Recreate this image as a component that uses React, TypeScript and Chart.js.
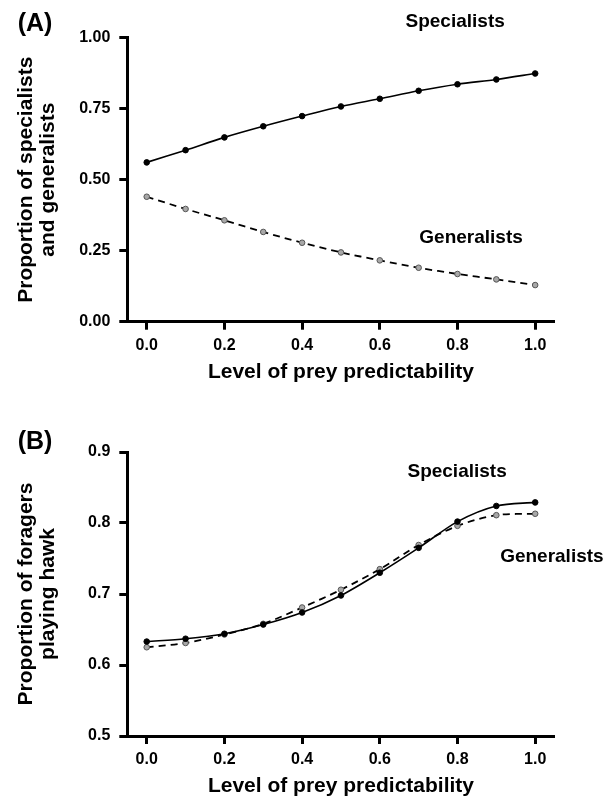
import React, { useEffect, useRef } from "react";
import { Chart, registerables } from "chart.js";

Chart.register(...registerables);

const xValues = [0, 0.1, 0.2, 0.3, 0.4, 0.5, 0.6, 0.7, 0.8, 0.9, 1.0];
const xTickValues = [0, 0.2, 0.4, 0.6, 0.8, 1.0];

const aSpecialists = [0.561, 0.604, 0.649, 0.688, 0.724, 0.758, 0.785, 0.813, 0.836, 0.853, 0.874];
const aGeneralists = [0.44, 0.397, 0.357, 0.316, 0.278, 0.244, 0.216, 0.19, 0.168, 0.149, 0.129];

const bSpecialists = [0.633, 0.637, 0.644, 0.657, 0.674, 0.698, 0.73, 0.765, 0.802, 0.824, 0.829];
const bGeneralists = [0.625, 0.631, 0.643, 0.658, 0.681, 0.706, 0.735, 0.769, 0.796, 0.811, 0.813];

const xTitle = "Level of prey predictability";
const aYTitle = ["Proportion of specialists", "and generalists"];
const bYTitle = ["Proportion of foragers", "playing hawk"];

const FONT = "'Liberation Sans', Arial, Helvetica, sans-serif";

type Note = { text: string; x: number; y: number };

function buildConfig(opts: {
  spec: number[];
  gen: number[];
  yMin: number;
  yMax: number;
  yStep: number;
  yDecimals: number;
  yTitle: string[];
  panel: string;
  panelY: number;
  notes: Note[];
  padTop: number;
  padBottom: number;
}) {
  const toPts = (arr: number[]) => arr.map((v, i) => ({ x: xValues[i], y: v }));
  const textPlugin = {
    id: "notes",
    afterDraw(chart: any) {
      const ctx = chart.ctx;
      const xs = chart.scales.x;
      const ys = chart.scales.y;
      ctx.save();
      ctx.fillStyle = "#000";
      ctx.textAlign = "center";
      ctx.textBaseline = "middle";
      ctx.font = `bold 19px ${FONT}`;
      opts.notes.forEach((n) => {
        ctx.fillText(n.text, xs.getPixelForValue(n.x), ys.getPixelForValue(n.y));
      });
      ctx.font = `bold 25px ${FONT}`;
      ctx.fillText(opts.panel, 35, opts.panelY);
      ctx.restore();
    },
  };
  return {
    type: "line",
    data: {
      datasets: [
        {
          label: "Specialists",
          data: toPts(opts.spec),
          borderColor: "#000",
          borderWidth: 1.6,
          backgroundColor: "#000",
          pointRadius: 2.8,
          pointBorderWidth: 1,
          pointBorderColor: "#000",
          pointBackgroundColor: "#000",
          tension: 0.3,
        },
        {
          label: "Generalists",
          data: toPts(opts.gen),
          borderColor: "#000",
          borderWidth: 1.8,
          borderDash: [7, 5],
          backgroundColor: "#999",
          pointRadius: 2.8,
          pointBorderWidth: 1,
          pointBorderColor: "#555",
          pointBackgroundColor: "#a8a8a8",
          tension: 0.3,
        },
      ],
    },
    options: {
      responsive: false,
      animation: false,
      events: [],
      layout: { padding: { left: 0, right: 60.4, top: opts.padTop, bottom: opts.padBottom } },
      plugins: { legend: { display: false }, tooltip: { enabled: false } },
      scales: {
        x: {
          type: "linear",
          min: -0.05,
          max: 1.05,
          afterBuildTicks: (s: any) => {
            s.ticks = xTickValues.map((v) => ({ value: v }));
          },
          afterFit: (s: any) => {
            s.height = 61.3;
          },
          ticks: {
            color: "#000",
            font: { family: FONT, size: 16, weight: "bold" },
            padding: 6,
            maxRotation: 0,
            callback: (v: any) => Number(v).toFixed(1),
          },
          grid: {
            display: true,
            drawOnChartArea: false,
            drawTicks: true,
            tickLength: 8,
            tickWidth: 3,
            tickColor: "#000",
          },
          border: { display: true, width: 3, color: "#000" },
          title: {
            display: true,
            text: xTitle,
            color: "#000",
            font: { family: FONT, size: 21, weight: "bold", lineHeight: 1.05 },
            padding: { top: 0, bottom: 0 },
          },
        },
        y: {
          type: "linear",
          min: opts.yMin,
          max: opts.yMax,
          afterFit: (s: any) => {
            s.width = 127.3;
          },
          ticks: {
            stepSize: opts.yStep,
            color: "#000",
            font: { family: FONT, size: 16, weight: "bold" },
            padding: 9,
            callback: (v: any) => Number(v).toFixed(opts.yDecimals),
          },
          grid: {
            display: true,
            drawOnChartArea: false,
            drawTicks: true,
            tickLength: 8,
            tickWidth: 3,
            tickColor: "#000",
          },
          border: { display: true, width: 3, color: "#000" },
          title: {
            display: true,
            text: opts.yTitle,
            color: "#000",
            font: { family: FONT, size: 21, weight: "bold", lineHeight: 1.05 },
            padding: { top: 15, bottom: 0 },
          },
        },
      },
    },
    plugins: [textPlugin],
  } as any;
}

function Panel(props: { width: number; height: number; config: any }) {
  const ref = useRef<HTMLCanvasElement | null>(null);
  useEffect(() => {
    if (!ref.current) return;
    const chart = new Chart(ref.current, props.config);
    return () => chart.destroy();
  }, []);
  return (
    <canvas
      ref={ref}
      width={props.width}
      height={props.height}
      style={{ display: "block", width: props.width, height: props.height }}
    />
  );
}

export default function App() {
  const configA = buildConfig({
    spec: aSpecialists,
    gen: aGeneralists,
    yMin: 0,
    yMax: 1,
    yStep: 0.25,
    yDecimals: 2,
    yTitle: aYTitle,
    panel: "(A)",
    panelY: 24,
    notes: [
      { text: "Specialists", x: 0.794, y: 1.055 },
      { text: "Generalists", x: 0.835, y: 0.295 },
    ],
    padTop: 37.7,
    padBottom: 17,
  });
  const configB = buildConfig({
    spec: bSpecialists,
    gen: bGeneralists,
    yMin: 0.5,
    yMax: 0.9,
    yStep: 0.1,
    yDecimals: 1,
    yTitle: bYTitle,
    panel: "(B)",
    panelY: 42,
    notes: [
      { text: "Specialists", x: 0.799, y: 0.872 },
      { text: "Generalists", x: 1.043, y: 0.752 },
    ],
    padTop: 52,
    padBottom: 4.7,
  });
  return (
    <div style={{ position: "fixed", left: 0, top: 0, width: 615, height: 802, background: "#fff" }}>
      <Panel width={615} height={400} config={configA} />
      <Panel width={615} height={402} config={configB} />
    </div>
  );
}
